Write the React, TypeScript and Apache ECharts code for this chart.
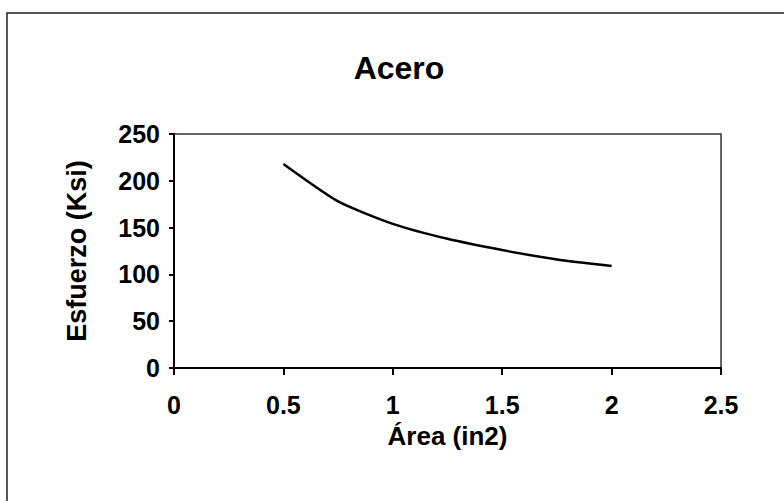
import React, { useEffect, useRef } from "react";
import * as echarts from "echarts";

const areas = [0.5, 0.75, 1, 1.25, 1.5, 1.75, 2];
const stress = [218, 178, 154, 138, 126, 116, 109];
const xTicks = [0, 0.5, 1, 1.5, 2, 2.5];
const yTicks = [0, 50, 100, 150, 200, 250];

export default function App() {
  const ref = useRef<HTMLDivElement>(null);
  useEffect(() => {
    const chart = echarts.init(ref.current!, null, { renderer: "svg" });
    const font = "'Liberation Sans', Arial, sans-serif";
    chart.setOption({
      animation: false,
      backgroundColor: "#fff",
      title: {
        text: "Acero",
        left: 394,
        textAlign: "center",
        top: 47,
        textStyle: { fontFamily: font, fontSize: 32, fontWeight: "bold", color: "#000" },
      },
      graphic: [
        {
          type: "rect",
          shape: { x: 7, y: 13, width: 820, height: 520 },
          style: { fill: "none", stroke: "#222", lineWidth: 1.5 },
          silent: true,
        },
      ],
      grid: {
        left: 174,
        top: 134,
        right: 63,
        bottom: 133,
        show: true,
        borderColor: "#333",
        borderWidth: 1.5,
      },
      xAxis: {
        type: "value",
        min: xTicks[0],
        max: xTicks[xTicks.length - 1],
        interval: 0.5,
        name: "Área (in2)",
        nameLocation: "middle",
        nameGap: 55,
        nameTextStyle: { fontFamily: font, fontSize: 26, fontWeight: "bold", color: "#000" },
        axisLine: { show: true, lineStyle: { color: "#000", width: 2 } },
        axisTick: { show: true, length: 7, lineStyle: { color: "#000", width: 2 } },
        axisLabel: {
          fontFamily: font,
          fontSize: 25,
          fontWeight: "bold",
          color: "#000",
          margin: 24,
          formatter: (v: number) => String(v),
        },
        splitLine: { show: false },
      },
      yAxis: {
        type: "value",
        min: yTicks[0],
        max: yTicks[yTicks.length - 1],
        interval: 50,
        name: "Esfuerzo (Ksi)",
        nameLocation: "middle",
        nameGap: 84,
        nameTextStyle: { fontFamily: font, fontSize: 27, fontWeight: "bold", color: "#000" },
        axisLine: { show: true, lineStyle: { color: "#000", width: 2 } },
        axisTick: { show: true, length: 5, lineStyle: { color: "#000", width: 2 } },
        axisLabel: {
          fontFamily: font,
          fontSize: 25,
          fontWeight: "bold",
          color: "#000",
          margin: 14,
        },
        splitLine: { show: false },
      },
      series: [
        {
          type: "line",
          data: areas.map((a, i) => [a, stress[i]]),
          showSymbol: false,
          smooth: 0.2,
          lineStyle: { color: "#000", width: 2.5 },
        },
      ],
    });
    return () => chart.dispose();
  }, []);
  return (
    <div
      ref={ref}
      style={{ position: "absolute", left: 0, top: 0, width: 784, height: 501 }}
    />
  );
}
